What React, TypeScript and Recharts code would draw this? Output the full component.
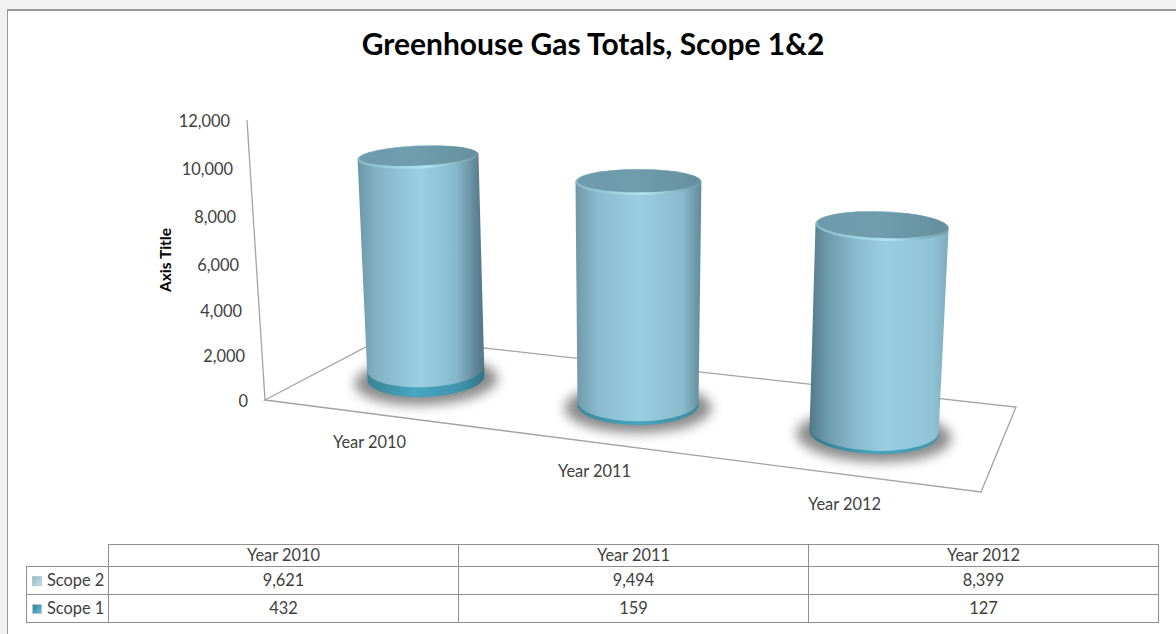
import { Bar, BarChart, XAxis, YAxis } from 'recharts';

const categories = ['Year 2010', 'Year 2011', 'Year 2012'];
const scope1Values = [432, 159, 127];
const scope2Values = [9621, 9494, 8399];
const yTicks = [0, 2000, 4000, 6000, 8000, 10000, 12000];

const chartData = categories.map((name, i) => ({ name, scope1: scope1Values[i], scope2: scope2Values[i] }));

const W = 1176;
const H = 634;
const FONT = 'Lato, sans-serif';
const TEXT = '#404040';
const LINE = '#a3a3a3';
const PLOT_BOTTOM = 400;
const LABEL_SIZE = 16.4;

// fake 3d view: where each cylinder stands and how it leans in the picture
const views = [
  { dx: 62.5, baseY: 378, rx: 58.5, ry: 19, f: 0.942, lean: -0.036, grow: 0.009, flat: -0.034, rot: -2.5, labelDx: 6, labelDy: 41, body: 'g0', band: 'b0' },
  { dx: 37.5, baseY: 405, rx: 60.5, ry: 20, f: 0.99, lean: 0.002, grow: 0.011, flat: -0.031, rot: 0, labelDx: -6, labelDy: 70, body: 'g1', band: 'b1' },
  { dx: 36.5, baseY: 433, rx: 64.5, ry: 21, f: 1.04, lean: 0.039, grow: 0.01, flat: -0.03, rot: 2, labelDx: 7, labelDy: 103, body: 'g2', band: 'b2' },
];

const ringAt = (v: (typeof views)[number], cx0: number, h: number) => {
  const cx = cx0 + v.lean * h;
  const cy = v.baseY - h;
  const rx = v.rx + v.grow * h;
  const ry = v.ry + v.flat * h;
  const a = (v.rot * Math.PI) / 180;
  return {
    cx,
    cy,
    rx,
    ry,
    lx: cx - rx * Math.cos(a),
    ly: cy - rx * Math.sin(a),
    rxp: cx + rx * Math.cos(a),
    ryp: cy + rx * Math.sin(a),
  };
};

const Cylinder = (props: any) => {
  const { x, y, width, height, index, isTop } = props;
  const v = views[index];
  const cx0 = x + width / 2 + v.dx;
  const low = ringAt(v, cx0, (PLOT_BOTTOM - (y + height)) * v.f);
  const up = ringAt(v, cx0, (PLOT_BOTTOM - y) * v.f);
  const d = [
    `M${low.lx},${low.ly}`,
    `A${low.rx},${low.ry} ${v.rot} 0 0 ${low.rxp},${low.ryp}`,
    `L${up.rxp},${up.ryp}`,
    `A${up.rx},${up.ry} ${v.rot} 0 0 ${up.lx},${up.ly}`,
    'Z',
  ].join(' ');
  return (
    <g>
      {!isTop && (
        <ellipse
          cx={low.cx}
          cy={low.cy + 3}
          rx={low.rx + 13}
          ry={low.ry + 5}
          fill="#6a6a6a"
          opacity={0.78}
          filter="url(#soft)"
          transform={`rotate(${v.rot} ${low.cx} ${low.cy})`}
        />
      )}
      <path d={d} fill={`url(#${isTop ? v.body : v.band})`} />
      {isTop && (
        <g transform={`rotate(${v.rot} ${up.cx} ${up.cy})`}>
          <ellipse cx={up.cx} cy={up.cy} rx={up.rx} ry={up.ry} fill="url(#rim)" />
          <ellipse cx={up.cx} cy={up.cy - 1.2} rx={up.rx - 2} ry={up.ry - 1.6} fill="url(#lid)" />
        </g>
      )}
    </g>
  );
};

const YTick = (props: any) => {
  const { y, payload } = props;
  const t = payload.value / 12000;
  const bow = 4 * (1 - (2 * t - 1) * (2 * t - 1));
  return (
    <text x={248 - 18 * t} y={y + bow} textAnchor="end" dominantBaseline="central" fontSize={LABEL_SIZE} fontFamily={FONT} fill={TEXT}>
      {payload.value.toLocaleString('en-US')}
    </text>
  );
};

const XTick = (props: any) => {
  const { x, payload, index } = props;
  const v = views[index];
  return (
    <text x={x + v.labelDx} y={PLOT_BOTTOM + v.labelDy} textAnchor="middle" dominantBaseline="central" fontSize={LABEL_SIZE} fontFamily={FONT} fill={TEXT}>
      {payload.value}
    </text>
  );
};

const bodyStops = [
  [['0', '#6b96a6'], ['0.15', '#82b3c5'], ['0.5', '#9ad0e4'], ['0.78', '#86b8ca'], ['0.93', '#5f8797'], ['1', '#527686']],
  [['0', '#6f98a8'], ['0.18', '#89bbce'], ['0.5', '#99cee2'], ['0.85', '#89bacc'], ['1', '#618b9a']],
  [['0', '#527988'], ['0.12', '#6c99aa'], ['0.32', '#87b9cb'], ['0.55', '#99cee2'], ['0.88', '#90c3d6'], ['1', '#7dabbc']],
];
const bandStops = [
  [['0', '#3a8494'], ['0.4', '#46a5bf'], ['0.8', '#3f93aa'], ['1', '#327382']],
  [['0', '#3c8a9c'], ['0.5', '#46a5bf'], ['1', '#3c8a9c']],
  [['0', '#33798a'], ['0.5', '#46a5bf'], ['1', '#3f97ae']],
];

const Gradient = ({ id, stops }: { id: string; stops: string[][] }) => (
  <linearGradient id={id} x1="0" y1="0" x2="1" y2="0">
    {stops.map(([o, c]) => (
      <stop key={o} offset={o} stopColor={c} />
    ))}
  </linearGradient>
);

const Swatch = ({ from, to }: { from: string; to: string }) => (
  <span
    style={{
      display: 'inline-block',
      width: 10,
      height: 10,
      marginRight: 5,
      border: '1px solid #b8c8ce',
      boxSizing: 'border-box',
      background: `linear-gradient(135deg, ${from}, ${to})`,
    }}
  />
);

const cell = { border: '1.5px solid #8f8f8f', padding: '0 0 2px', textAlign: 'center' as const };

const DataTable = () => (
  <table
    style={{
      position: 'absolute',
      left: 26,
      top: 544,
      width: 1133,
      borderCollapse: 'collapse',
      tableLayout: 'fixed',
      fontFamily: FONT,
      fontSize: LABEL_SIZE,
      color: TEXT,
    }}
  >
    <colgroup>
      <col style={{ width: 82 }} />
      <col />
      <col />
      <col />
    </colgroup>
    <tbody>
      <tr style={{ height: 22 }}>
        <td style={{ border: 'none', borderRight: cell.border, borderBottom: cell.border }} />
        {categories.map((c) => (
          <td key={c} style={cell}>{c}</td>
        ))}
      </tr>
      <tr style={{ height: 28 }}>
        <td style={{ ...cell, textAlign: 'left', paddingLeft: 5, whiteSpace: 'nowrap' }}>
          <Swatch from="#8fbccb" to="#c4e2ec" />Scope 2
        </td>
        {scope2Values.map((v, i) => (
          <td key={categories[i]} style={cell}>{v.toLocaleString('en-US')}</td>
        ))}
      </tr>
      <tr style={{ height: 28 }}>
        <td style={{ ...cell, textAlign: 'left', paddingLeft: 5, whiteSpace: 'nowrap' }}>
          <Swatch from="#2f7f94" to="#5fc0da" />Scope 1
        </td>
        {scope1Values.map((v, i) => (
          <td key={categories[i]} style={cell}>{v.toLocaleString('en-US')}</td>
        ))}
      </tr>
    </tbody>
  </table>
);

export default function App() {
  return (
    <div style={{ position: 'absolute', left: 0, top: 0, width: W, height: H, background: '#f1f1f1', overflow: 'hidden' }}>
      <div style={{ position: 'absolute', left: 7, top: 9, width: W, height: H, background: '#fff', borderLeft: '1.5px solid #9a9a9a', borderTop: '2px solid #9a9a9a' }} />
      <div style={{ position: 'absolute', left: 0, top: 25, width: 1186, textAlign: 'center', fontFamily: FONT, fontWeight: 700, fontSize: 30, color: '#000' }}>
        Greenhouse Gas Totals, Scope 1&amp;2
      </div>
      <div style={{ position: 'absolute', left: 0, top: 0 }}>
        <BarChart width={W} height={H} data={chartData} margin={{ top: 120, right: 220, bottom: 174, left: 185 }} barCategoryGap={60}>
          <defs>
            {bodyStops.map((s, i) => <Gradient key={`g${i}`} id={`g${i}`} stops={s} />)}
            {bandStops.map((s, i) => <Gradient key={`b${i}`} id={`b${i}`} stops={s} />)}
            <Gradient id="lid" stops={[['0', '#6d9bab'], ['0.5', '#6f9dac'], ['1', '#648f9f']]} />
            <Gradient id="rim" stops={[['0', '#86b7c9'], ['0.55', '#b2e3f2'], ['1', '#6b95a5']]} />
            <filter id="soft" x="-30%" y="-60%" width="160%" height="220%">
              <feGaussianBlur stdDeviation="6" />
            </filter>
          </defs>
          {/* floor and the leaning value axis */}
          <polygon points="265,400 385,337 1016,407 981,492" fill="none" stroke={LINE} strokeWidth={1.3} />
          <line x1={247} y1={120} x2={265} y2={400} stroke={LINE} strokeWidth={1.3} />
          <XAxis dataKey="name" axisLine={false} tickLine={false} height={60} tick={<XTick />} interval={0} />
          <YAxis
            width={60}
            domain={[0, 12000]}
            ticks={yTicks}
            axisLine={false}
            tickLine={false}
            tick={<YTick />}
            label={{ value: 'Axis Title', angle: -90, position: 'center', dx: -50, fontSize: 15.5, fontWeight: 700, fontFamily: FONT, fill: '#000' }}
          />
          <Bar dataKey="scope1" stackId="total" isAnimationActive={false} shape={<Cylinder isTop={false} />} />
          <Bar dataKey="scope2" stackId="total" isAnimationActive={false} shape={<Cylinder isTop />} />
        </BarChart>
      </div>
      <DataTable />
    </div>
  );
}
